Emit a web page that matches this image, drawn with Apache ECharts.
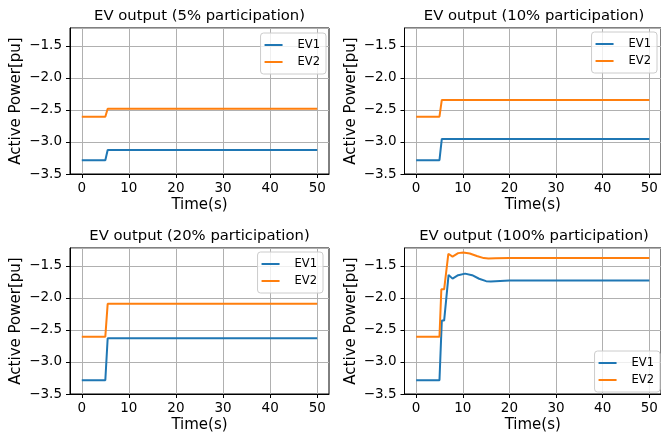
<!DOCTYPE html>
<html>
<head>
<meta charset="utf-8">
<script src="https://cdn.jsdelivr.net/npm/echarts@6/dist/echarts.min.js"></script>
<style>
html, body { margin: 0; padding: 0; background: #fff; }
#main { width: 661px; height: 438px; }
</style>
</head>
<body>
<div id="main"></div>
<script>
var titles = ['EV output (5% participation)', 'EV output (10% participation)',
              'EV output (20% participation)', 'EV output (100% participation)'];
var seriesNames = ['EV1', 'EV2'];
var xTicks = [0, 10, 20, 30, 40, 50];

// step response panels (5%, 10%, 20%)
var stepTime = [0, 5, 5.5, 50];
var ev1_5 = [-3.285, -3.285, -3.125, -3.125];
var ev2_5 = [-2.605, -2.605, -2.48, -2.48];
var ev1_10 = [-3.285, -3.285, -2.953, -2.953];
var ev2_10 = [-2.605, -2.605, -2.344, -2.344];
var ev1_20 = [-3.285, -3.285, -2.63, -2.63];
var ev2_20 = [-2.605, -2.605, -2.092, -2.092];

// 100% panel
var ev1Time100 = [0, 5, 5.5, 6.0, 6.95, 7.8, 9, 10.5, 12, 13.5, 15, 16, 18, 20, 50];
var ev1_100 = [-3.286, -3.286, -2.354, -2.354, -1.64, -1.698, -1.645, -1.62, -1.645, -1.70, -1.738, -1.745, -1.735, -1.729, -1.729];
var ev2Time100 = [0, 5, 5.4, 6.0, 6.9, 7.8, 9, 10.1, 11.5, 13, 14.5, 15.5, 17, 20, 50];
var ev2_100 = [-2.605, -2.605, -1.865, -1.865, -1.31, -1.354, -1.30, -1.29, -1.305, -1.345, -1.378, -1.385, -1.38, -1.375, -1.375];

var panels = [
    [[stepTime, ev1_5], [stepTime, ev2_5]],
    [[stepTime, ev1_10], [stepTime, ev2_10]],
    [[stepTime, ev1_20], [stepTime, ev2_20]],
    [[ev1Time100, ev1_100], [ev2Time100, ev2_100]]
];

var colors = ['#1f77b4', '#ff7f0e'];
var font = 'DejaVu Sans';
var gridPos = [[70, 28], [404.5, 28], [70, 248], [404.5, 248]];
var gridW = 259, gridH = 146;
var legendPos = [
    { right: 335, top: 33 },
    { right: 4, top: 32 },
    { right: 338, top: 252 },
    { right: 1, top: 351 }
];

function fmt(v) {
    return (v < 0 ? '\u2212' : '') + Math.abs(v).toFixed(1);
}

var myChart = echarts.init(document.getElementById('main'));

var option = {
    backgroundColor: '#fff',
    animation: false,
    title: [], grid: [], xAxis: [], yAxis: [], legend: [], series: []
};

panels.forEach(function (panel, i) {
    var left = gridPos[i][0], top = gridPos[i][1];
    option.grid.push({
        left: left, top: top, width: gridW, height: gridH,
        show: true, borderColor: '#000', borderWidth: 1, backgroundColor: 'transparent'
    });
    option.title.push({
        text: titles[i],
        left: left + gridW / 2,
        top: top - 19,
        textAlign: 'center',
        padding: 0,
        textStyle: { fontFamily: font, fontSize: 14.8, fontWeight: 'normal', color: '#000' }
    });
    option.xAxis.push({
        type: 'value', gridIndex: i, min: -2.5, max: 52.5,
        name: 'Time(s)', nameLocation: 'middle', nameGap: 24,
        nameTextStyle: { fontFamily: font, fontSize: 15, color: '#000' },
        axisLine: { onZero: false, lineStyle: { color: '#000', width: 1 } },
        axisTick: { show: true, length: 4, customValues: xTicks, lineStyle: { color: '#000' } },
        axisLabel: { customValues: xTicks, margin: 7, fontFamily: font, fontSize: 13.5, color: '#000' },
        splitLine: { show: true, lineStyle: { color: '#b0b0b0', width: 1 } }
    });
    option.yAxis.push({
        type: 'value', gridIndex: i, min: -3.5, max: -1.22, interval: 0.5,
        name: 'Active Power[pu]', nameLocation: 'middle', nameGap: 46,
        nameTextStyle: { fontFamily: font, fontSize: 15, color: '#000' },
        axisLine: { show: true, onZero: false, lineStyle: { color: '#000', width: 1 } },
        axisTick: { show: true, length: 4, lineStyle: { color: '#000' } },
        axisLabel: { showMaxLabel: false, margin: 8, formatter: fmt, fontFamily: font, fontSize: 13.5, color: '#000' },
        splitLine: { show: true, lineStyle: { color: '#b0b0b0', width: 1 } }
    });
    option.legend.push(Object.assign({
        orient: 'vertical',
        data: seriesNames,
        icon: 'rect', itemWidth: 18, itemHeight: 2, itemGap: 5,
        backgroundColor: 'rgba(255,255,255,0.8)', borderColor: '#cccccc', borderWidth: 1, borderRadius: 3,
        padding: [6, 6, 6, 4],
        selectedMode: false,
        textStyle: { fontFamily: font, fontSize: 11.5, color: '#000', padding: [0, 0, 0, 10] }
    }, legendPos[i]));
    panel.forEach(function (s, k) {
        option.series.push({
            name: seriesNames[k], type: 'line', xAxisIndex: i, yAxisIndex: i,
            data: s[0].map(function (t, j) { return [t, s[1][j]]; }),
            showSymbol: false, symbol: 'none', color: colors[k],
            lineStyle: { width: 2, color: colors[k] }
        });
    });
});

myChart.setOption(option);
</script>
</body>
</html>
